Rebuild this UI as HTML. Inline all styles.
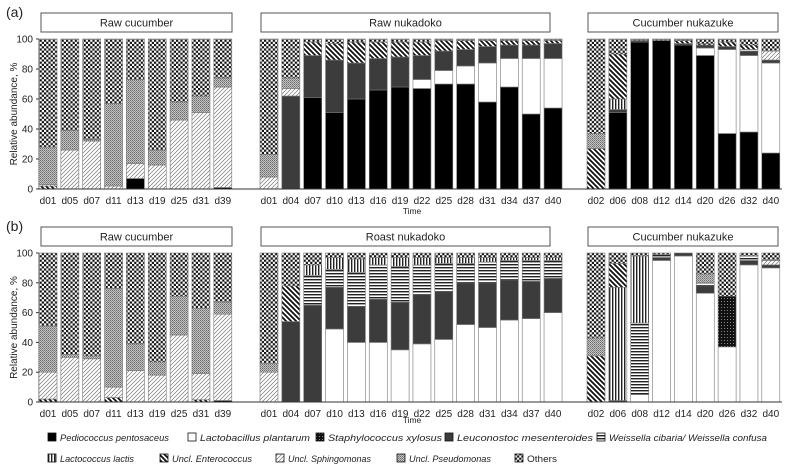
<!DOCTYPE html>
<html><head><meta charset="utf-8"><style>
body{margin:0;background:#fff}
svg{display:block;font-family:"Liberation Sans",sans-serif}
</style></head><body>
<svg id="chart" width="787" height="468" viewBox="0 0 787 468">
<defs>
<pattern id="p-staph" width="3" height="3" patternUnits="userSpaceOnUse"><rect width="3" height="3" fill="#111"/><rect x="1" y="1" width="1" height="1" fill="#888"/></pattern>
<pattern id="p-weiss" width="3" height="3" patternUnits="userSpaceOnUse"><rect width="3" height="3" fill="#fff"/><rect width="3" height="1.4" fill="#222"/></pattern>
<pattern id="p-lactococcus" width="3" height="3" patternUnits="userSpaceOnUse"><rect width="3" height="3" fill="#fff"/><rect width="1.4" height="3" fill="#222"/></pattern>
<pattern id="p-entero" width="5" height="5" patternUnits="userSpaceOnUse"><rect width="5" height="5" fill="#fff"/><path d="M-1,-1 L6,6 M-1,4 L1,6 M4,-1 L6,1" stroke="#111" stroke-width="1.8"/></pattern>
<pattern id="p-sphing" width="4" height="4" patternUnits="userSpaceOnUse"><rect width="4" height="4" fill="#fff"/><path d="M-1,5 L5,-1 M-1,1 L1,-1 M3,5 L5,3" stroke="#777" stroke-width="0.7"/></pattern>
<pattern id="p-pseudo" width="2" height="2" patternUnits="userSpaceOnUse"><rect width="2" height="2" fill="#c4c4c4"/><rect width="1" height="1" fill="#6a6a6a"/><rect x="1" y="1" width="1" height="1" fill="#8a8a8a"/></pattern>
<pattern id="p-others" width="4.4" height="4.4" patternUnits="userSpaceOnUse"><rect width="4.4" height="4.4" fill="#fff"/><rect width="2.2" height="2.2" fill="#111"/><rect x="2.2" y="2.2" width="2.2" height="2.2" fill="#111"/></pattern>
</defs>
</svg>
<script>
const seriesNames=["Pediococcus pentosaceus","Lactobacillus plantarum","Staphylococcus xylosus","Leuconostoc mesenteroides","Weissella cibaria/ Weissella confusa","Lactococcus lactis","Uncl. Enterococcus","Uncl. Sphingomonas","Uncl. Pseudomonas","Others"];
const seriesFills=["#000","#fff","url(#p-staph)","#3c3c3c","url(#p-weiss)","url(#p-lactococcus)","url(#p-entero)","url(#p-sphing)","url(#p-pseudo)","url(#p-others)"];
const yTicks=[0,20,40,60,80,100];
const groupTitlesA=["Raw cucumber","Raw nukadoko","Cucumber nukazuke"];
const groupTitlesB=["Raw cucumber","Roast nukadoko","Cucumber nukazuke"];
const daysRawCuc=["d01","d05","d07","d11","d13","d19","d25","d31","d39"];
const daysNukadoko=["d01","d04","d07","d10","d13","d16","d19","d22","d25","d28","d31","d34","d37","d40"];
const daysNukazuke=["d02","d06","d08","d12","d14","d20","d26","d32","d40"];
const aRawCuc=[[0,0,0,0,0,0,2,1,25,72],[0,0,0,0,0,0,0,26,13,61],[0,0,0,0,0,0,0,32,1,67],[0,0,0,0,0,0,0,2,55,43],[7,0,0,0,0,0,0,10,56,27],[0,0,0,0,0,0,0,16,10,74],[0,0,0,0,0,0,0,46,12,42],[0,0,0,0,0,0,0,51,11,38],[1,0,0,0,0,0,0,67,6,26]];
const aNukadoko=[[0,0,0,0,0,0,0,8,15,77],[0,0,0,62,0,0,0,5,7,26],[61,0,0,28,0,0,9,0,0,2],[51,0,0,35,0,0,11,0,0,3],[60,0,0,24,0,0,14,0,0,2],[66,0,0,21,0,0,11,0,0,2],[68,0,0,20,0,0,10,0,0,2],[67,6,0,16,0,0,9,0,0,2],[70,9,0,13,0,0,7,0,0,1],[70,12,0,11,0,0,6,0,0,1],[58,26,0,11,0,0,4,0,0,1],[68,19,0,9,0,0,3,0,0,1],[50,37,0,9,0,0,3,0,0,1],[54,33,0,10,0,0,2,0,0,1]];
const aNukazuke=[[0,0,0,0,0,0,27,0,10,63],[51,0,0,2,0,7,30,0,0,10],[98,0,0,1,0,0,0,0,0,1],[99,0,0,0,0,0,0,0,0,1],[96,0,0,1,0,0,2,0,0,1],[89,5,0,2,0,0,1,0,0,3],[37,56,0,2,0,0,3,0,0,2],[38,51,0,3,1,0,3,0,0,4],[24,60,0,2,0,0,0,6,0,8]];
const bRawCuc=[[0,0,0,0,0,0,2,18,31,49],[0,0,0,0,0,0,0,30,2,68],[0,0,0,0,0,0,0,29,2,69],[0,0,0,0,0,0,3,7,66,24],[0,0,0,0,0,0,0,21,18,61],[0,0,0,0,0,0,0,18,9,73],[0,0,0,0,0,0,0,45,26,29],[0,0,0,0,0,0,1.5,17.5,44,37],[1,0,0,0,0,0,0,58,8,33]];
const bNukadoko=[[0,0,0,0,0,0,0,20,6,74],[0,0,0,54,0,0,24,0,0,22],[0,0,0,65,20,7,0,0,0,8],[0,49,0,28,12,8,0,0,0,3],[0,40,0,24,23,9,0,0,0,4],[0,40,0,29,23,5,0,0,0,3],[0,35,0,32,24,6,0,0,0,3],[0,39,0,33,20,5,0,0,0,3],[0,42,0,32,19,4,0,0,0,3],[0,52,0,28,13,4,0,0,0,3],[0,50,0,30,14,3,0,0,0,3],[0,55,0,27,13,2,0,0,0,3],[0,56,0,25,14,2,0,0,0,3],[0,60,0,23,12,2,0,0,0,3]];
const bNukazuke=[[0,0,0,0,0,0,31,0,12,57],[0,0,0,1,0,76,16,0,0,7],[0,5,0,0,48,45,0,0,0,2],[0,95,0,2,2,0,0,0,0,1],[0,98,0,2,0,0,0,0,0,0],[0,73,0,5,2,0,0,0,6,14],[0,37,34,0,0,0,0,0,0,29],[0,92,0,3,3,0,0,0,0,2],[0,90,0,2,0,0,0,3,0,5]];

const NS="http://www.w3.org/2000/svg";
const svg=document.getElementById("chart");
function mk(tag,attrs,parent,text){const e=document.createElementNS(NS,tag);for(const k in attrs)e.setAttribute(k,attrs[k]);if(text!==undefined)e.textContent=text;(parent||svg).appendChild(e);return e;}
const groupX=[39,260,587], pitch=21.85, barW=18;
function xBar(g,i){return groupX[g]+i*pitch;}
const boxes=[[41,232],[261,550],[588,778]];

function panel(label,top,bottom,titles,groups,days,timeOff){
  const y=v=>bottom-(v/100)*(bottom-top);
  const p=mk("g",{});
  
  
  const pl=mk("text",{x:6,y:top-22,"font-size":14,fill:"#222"},p,"("+label+")");
  
  
  const yt=mk("text",{x:0,y:0,"font-size":10,fill:"#222","text-anchor":"middle",transform:`translate(17,${(top+bottom)/2}) rotate(-90)`},p,"Relative abundance, %");
  
  
  mk("line",{x1:39,y1:top,x2:39,y2:bottom,stroke:"#333","stroke-width":1},p);
  yTicks.forEach(t=>{
    mk("line",{x1:36,y1:y(t),x2:39,y2:y(t),stroke:"#333"},p);
    const tl=mk("text",{x:33,y:y(t)+3.5,"font-size":10,"text-anchor":"end",fill:"#222"},p,String(t));
    
    
  });
  titles.forEach((t,g)=>{
    const bx=mk("rect",{x:boxes[g][0],y:top-26,width:boxes[g][1]-boxes[g][0],height:19,fill:"#fff",stroke:"#555","stroke-width":1},p);
    
    
    const tt=mk("text",{x:(boxes[g][0]+boxes[g][1])/2,y:top-12.5,"font-size":11,"text-anchor":"middle",fill:"#222"},p,t);
    
    
  });
  groups.forEach((rows,g)=>{
    rows.forEach((vals,i)=>{
      const x=xBar(g,i); let cum=0;
      vals.forEach((v,s)=>{
        if(v<=0)return;
        const r=mk("rect",{x:x,y:y(cum+v),width:barW,height:y(cum)-y(cum+v),fill:seriesFills[s],stroke:"#777","stroke-width":0.6},p);
        
        
        cum+=v;
      });
      const xl=mk("text",{x:x+barW/2,y:bottom+15,"font-size":10,"text-anchor":"middle",fill:"#222"},p,days[g][i]);
      
      
    });
  });
  mk("line",{x1:37,y1:bottom,x2:782,y2:bottom,stroke:"#333","stroke-width":1},p);
  const tm=mk("text",{x:412,y:bottom+timeOff,"font-size":8.5,"text-anchor":"middle",fill:"#222"},p,"Time");
  
  
}
const days=[daysRawCuc,daysNukadoko,daysNukazuke];
panel("a",39,189,groupTitlesA,[aRawCuc,aNukadoko,aNukazuke],days,25);
panel("b",253,402,groupTitlesB,[bRawCuc,bNukadoko,bNukazuke],days,21);

const legX=[48,188,316,445,597,48,160,276,397,515];
const legY=[441,441,441,441,441,462,462,462,462,462];
const legW=[109,110,114,136,158,74,80,83,82,30];
seriesNames.forEach((n,s)=>{
  const g=mk("g",{});
  
  
  mk("rect",{x:legX[s],y:legY[s]-8,width:8,height:8,fill:seriesFills[s],stroke:"#111","stroke-width":0.8},g);
  mk("text",{x:legX[s]+12,y:legY[s],"font-size":9.5,"font-style":s<9?"italic":"normal",fill:"#222",textLength:legW[s],lengthAdjust:"spacingAndGlyphs"},g,n);
});
</script>
</body></html>
